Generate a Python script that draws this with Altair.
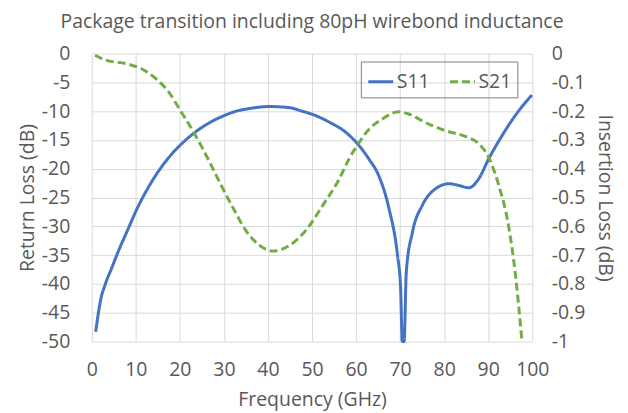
import altair as alt
import pandas as pd

# ---- data ----
s11_freq = [0.9, 1.5, 2.1, 3.0, 4.5, 6.0, 8.0, 10.5, 12.8, 15, 18, 21.8, 26.3, 30, 32.4,
            35.8, 40.3, 44.9, 47.5, 50.9, 53.9, 57.7, 60.7, 62.9, 65.2, 67.5, 69.4, 70.1,
            70.5, 70.9, 71.4, 72.8, 75, 78, 81.1, 83.3, 85.6, 87.8, 90.1, 93.1, 96.1, 99.9]
s11_db = [-48.3, -45.1, -42.5, -40.2, -37.3, -34.4, -30.9, -26.6, -23.3, -20.6, -17.6,
          -14.7, -12.2, -10.8, -10.1, -9.55, -9.2, -9.4, -9.95, -10.8, -11.9, -13.7, -16.0,
          -18.3, -21.3, -27.0, -35.0, -40.5, -50, -50, -37.9, -31, -26.4, -23.5, -22.6,
          -22.9, -23.3, -21.8, -18.3, -14.3, -10.8, -7.2]

s21_freq = [0.75, 3, 8.3, 11.3, 14.3, 17.3, 20.4, 23.4, 26.4, 29.4, 32.4, 35, 38.1, 41.1,
            44.9, 48.6, 52.4, 56.2, 58.4, 60.7, 63, 65.9, 69.7, 71.9, 76.5, 80.3, 84.8,
            87.9, 90.1, 92.4, 94.6, 96.1, 97.6]
s21_db = [-0.006, -0.022, -0.037, -0.053, -0.084, -0.13, -0.205, -0.28, -0.366, -0.458,
          -0.545, -0.615, -0.666, -0.686, -0.666, -0.614, -0.528, -0.435, -0.366, -0.309,
          -0.262, -0.228, -0.202, -0.21, -0.245, -0.268, -0.288, -0.314, -0.36, -0.458,
          -0.597, -0.758, -0.989]

series_names = ["S11", "S21"]
x_ticks = [0, 10, 20, 30, 40, 50, 60, 70, 80, 90, 100]
rl_ticks = [0, -5, -10, -15, -20, -25, -30, -35, -40, -45, -50]
il_ticks = [0, -0.1, -0.2, -0.3, -0.4, -0.5, -0.6, -0.7, -0.8, -0.9, -1]

df11 = pd.DataFrame({"freq": s11_freq, "val": s11_db, "series": "S11"})
df21 = pd.DataFrame({"freq": s21_freq, "val": s21_db, "series": "S21"})

FONT = "Open Sans"
GREY = "#595959"
FS = 19.5

color_scale = alt.Scale(domain=series_names, range=["#4472C4", "#70AD47"])
dash_scale = alt.Scale(domain=series_names, range=[[1, 0], [8, 4]])

legend = alt.Legend(
    title=None, orient="none", legendX=270, legendY=8, direction="horizontal",
    symbolType="stroke", symbolSize=625, symbolStrokeWidth=3,
    labelFontSize=FS, labelColor=GREY, labelFont=FONT, labelOffset=2,
    strokeColor="#808080", padding=6, columnPadding=14,
)

x_enc = alt.X(
    "freq:Q",
    scale=alt.Scale(domain=[0, 100], nice=False, zero=False),
    axis=alt.Axis(values=x_ticks, title="Frequency (GHz)", grid=True,
                  labelPadding=19, titlePadding=12, labelOverlap=False,
                  labelFlush=False),
)

neg_fmt = "datum.value == 0 ? '0' : '-' + format(abs(datum.value), '~g')"

line11 = alt.Chart(df11).mark_line(strokeWidth=3, interpolate="monotone").encode(
    x=x_enc,
    y=alt.Y("val:Q", scale=alt.Scale(domain=[-50, 0], nice=False),
            axis=alt.Axis(orient="left", values=rl_ticks, title="Return Loss (dB)",
                          labelExpr=neg_fmt, grid=True, labelPadding=22, titlePadding=4,
                          labelOverlap=False)),
    color=alt.Color("series:N", scale=color_scale, legend=legend),
    strokeDash=alt.StrokeDash("series:N", scale=dash_scale, legend=legend),
)

line21 = alt.Chart(df21).mark_line(strokeWidth=3, interpolate="monotone").encode(
    x=x_enc,
    y=alt.Y("val:Q", scale=alt.Scale(domain=[-1, 0], nice=False),
            axis=alt.Axis(orient="right", values=il_ticks, title="Insertion Loss (dB)",
                          labelExpr=neg_fmt, grid=False, labelPadding=19, titlePadding=10,
                          labelOverlap=False)),
    color=alt.Color("series:N", scale=color_scale, legend=legend),
    strokeDash=alt.StrokeDash("series:N", scale=dash_scale, legend=legend),
)

chart = alt.layer(line11, line21).resolve_scale(y="independent").properties(
    width=442, height=289,
    autosize=alt.AutoSizeParams(type="none"),
    padding={"left": 84, "top": 45, "right": 88, "bottom": 71},
    title=alt.TitleParams(
        "Package transition including 80pH wirebond inductance",
        font=FONT, fontSize=FS, fontWeight="normal", color=GREY,
        anchor="middle", offset=11,
    ),
).configure_view(stroke=None).configure_axis(
    domain=False, ticks=False, gridColor="#D9D9D9", gridWidth=1,
    labelFont=FONT, labelFontSize=FS, labelColor=GREY,
    titleFont=FONT, titleFontSize=FS, titleColor=GREY, titleFontWeight="normal",
)

chart.save("out.html", embed_options={"renderer": "svg", "actions": False})
